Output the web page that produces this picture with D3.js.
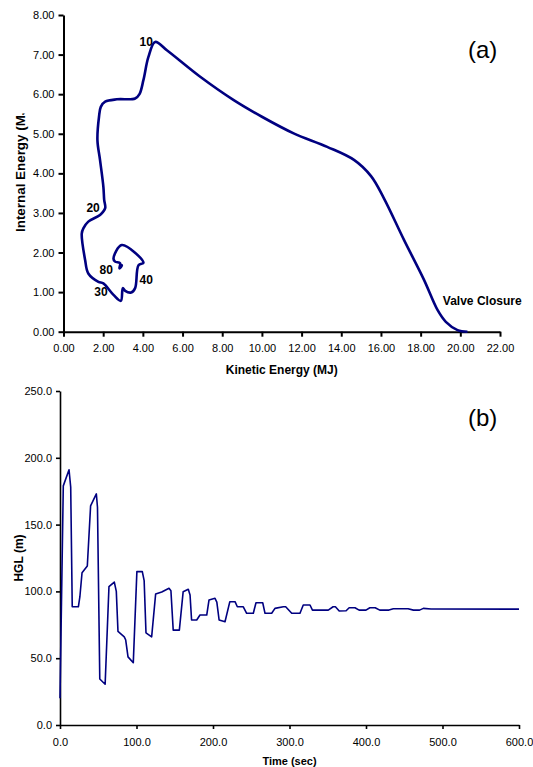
<!DOCTYPE html>
<html>
<head>
<meta charset="utf-8">
<script src="https://cdn.jsdelivr.net/npm/d3@7"></script>
<style>
  html, body { margin: 0; padding: 0; background: #fff; }
  svg { display: block; font-family: "Liberation Sans", Arial, sans-serif; }
</style>
</head>
<body>
<svg id="chart" width="533" height="767"></svg>
<script>
// (a) energy trajectory: kinetic energy (MJ) vs internal energy (MJ), from valve closure onward
const kineticMJ = [20.36, 19.86, 19.27, 18.85, 18.17, 17.16, 16.15, 15.5, 14.64, 13.29, 11.6, 10.0,
  8.58, 6.89, 5.21, 4.62, 4.28, 4.03, 3.83, 3.61, 2.69, 2.10, 1.88, 1.79, 1.71, 1.84, 2.01, 2.05, 2.10, 1.84,
  1.25, 1.0, 0.92, 1.09, 1.25, 1.76, 2.01, 2.52, 2.89, 2.99, 3.11, 3.41, 3.61, 3.78, 4.03, 2.94, 2.52, 2.60,
  2.85, 2.82, 2.94, 2.85];
const internalMJ = [0.0, 0.04, 0.25, 0.55, 1.31, 2.32, 3.37, 3.93, 4.34, 4.67, 5.01, 5.43,
  5.85, 6.44, 7.11, 7.32, 6.94, 6.36, 6.0, 5.89, 5.87, 5.81, 5.68, 5.43, 4.84, 4.34, 3.66, 3.33, 3.12, 2.95,
  2.78, 2.61, 2.48, 1.81, 1.47, 1.26, 1.22, 0.93, 0.78, 1.10, 1.03, 0.99, 1.10, 1.68, 1.74, 2.19, 1.85, 1.77,
  1.73, 1.60, 1.68, 1.70];

// time markers along the trajectory (label position in data units)
const markText = ["10", "20", "30", "40", "80", "Valve Closure"];
const markKE = [4.17, 1.49, 1.89, 4.17, 2.15, 19.12];
const markIE = [7.29, 3.10, 0.98, 1.28, 1.53, 0.75];
const markAnchor = ["middle", "middle", "middle", "middle", "middle", "start"];

const keTicks = [0, 2, 4, 6, 8, 10, 12, 14, 16, 18, 20, 22];
const ieTicks = [0, 1, 2, 3, 4, 5, 6, 7, 8];

// (b) hydraulic grade line history
const timeSec = [0, 4.3, 11.8, 14, 16, 24, 26, 28.8, 35.7, 40, 47.5, 49, 52, 59, 64, 71, 73.6, 75.8, 84, 85.9,
  88.9, 95.8, 100.5, 107.6, 110, 112.4, 119.8, 125, 133, 142.5, 145, 148, 156, 161, 167.7, 170, 172, 178.7,
  183, 191.8, 194.8, 202.6, 205, 208, 215.7, 222, 228.8, 231.8, 239.6, 244, 252.7, 256.2, 265, 268, 276.7,
  281, 291.9, 295, 302.9, 313.7, 318, 326.8, 330, 350.7, 357, 360, 365, 374, 378, 385.6, 391, 400, 405, 412,
  418, 430, 435.7, 455, 462, 470, 475, 485, 600];
const hglM = [20, 179, 191, 178, 88.5, 88.5, 96, 114, 119, 164, 173, 163, 34.4, 30.5, 103.5, 107, 100, 70, 66, 63.6,
  51, 46.6, 114.8, 114.8, 108, 69, 66, 98, 99.5, 102.3, 100.5, 71, 71, 99.8, 101.6, 97.3, 78.6, 78.6,
  82.3, 82.3, 93.6, 94.8, 92, 78.6, 77.3, 92.3, 92.3, 88.5, 88.5, 83.6, 83.6, 91.5, 91.5, 83.6, 83.6,
  87.3, 88.5, 88.5, 83.6, 83.6, 89.8, 89.8, 86, 86, 88.5, 88.5, 85.3, 85.5, 87.8, 87.8, 86, 86, 87.8, 87.8,
  86, 86, 87, 87, 86, 86, 87.3, 86.8, 86.7];

const timeTicks = [0, 100, 200, 300, 400, 500, 600];
const hglTicks = [0, 50, 100, 150, 200, 250];

const lineColor = "#000080";
const svg = d3.select("#chart");

function styleAxis(g, width) {
  g.select(".domain").attr("stroke", "#000").attr("stroke-width", width);
  g.selectAll(".tick line").attr("stroke", "#000").attr("stroke-width", width);
  g.selectAll(".tick text").attr("fill", "#000").attr("font-size", 11);
}

// ---------- panel (a) ----------
const ax = d3.scaleLinear().domain([0, 22]).range([63.5, 500]);
const ay = d3.scaleLinear().domain([0, 8]).range([331.7, 15]);

const gA = svg.append("g");
gA.append("g").attr("transform", `translate(0,${ay(0)})`)
  .call(d3.axisBottom(ax).tickValues(keTicks).tickFormat(d3.format(".2f")).tickSize(5).tickSizeOuter(0).tickPadding(8))
  .call(g => styleAxis(g, 2));
gA.append("g").attr("transform", `translate(${ax(0)},0)`)
  .call(d3.axisLeft(ay).tickValues(ieTicks).tickFormat(d3.format(".2f")).tickSize(5).tickSizeOuter(0).tickPadding(4))
  .call(g => styleAxis(g, 2));

const energyPts = kineticMJ.map((k, i) => [k, internalMJ[i]]);
gA.append("path")
  .datum(energyPts)
  .attr("fill", "none")
  .attr("stroke", lineColor)
  .attr("stroke-width", 2.6)
  .attr("stroke-linejoin", "round")
  .attr("d", d3.line().x(d => ax(d[0])).y(d => ay(d[1])).curve(d3.curveCatmullRom.alpha(0.5)));

gA.selectAll("text.mark")
  .data(markText)
  .join("text")
  .attr("class", "mark")
  .attr("x", (d, i) => ax(markKE[i]))
  .attr("y", (d, i) => ay(markIE[i]))
  .attr("text-anchor", (d, i) => markAnchor[i])
  .attr("dominant-baseline", "middle")
  .attr("font-size", 12)
  .attr("font-weight", "bold")
  .attr("fill", "#000")
  .text(d => d);

gA.append("text")
  .attr("x", ax(11)).attr("y", 374)
  .attr("text-anchor", "middle").attr("font-size", 12).attr("font-weight", "bold")
  .text("Kinetic Energy (MJ)");

// vertical title, cut at the top edge of its box
svg.append("clipPath").attr("id", "ieTitleClip")
  .append("rect").attr("x", 0).attr("y", 113.5).attr("width", 60).attr("height", 200);
gA.append("g")
  .attr("clip-path", "url(#ieTitleClip)")
  .append("text")
  .attr("transform", "translate(25,232) rotate(-90)")
  .attr("text-anchor", "start").attr("font-size", 13.4).attr("font-weight", "bold")
  .text("Internal Energy (MJ)");

gA.append("text")
  .attr("x", 468).attr("y", 58).attr("font-size", 24).text("(a)");

// ---------- panel (b) ----------
const bx = d3.scaleLinear().domain([0, 600]).range([60, 519]);
const by = d3.scaleLinear().domain([0, 250]).range([725, 391]);

const gB = svg.append("g");
gB.append("g").attr("transform", `translate(0,${by(0)})`)
  .call(d3.axisBottom(bx).tickValues(timeTicks).tickFormat(d3.format(".1f")).tickSize(4).tickSizeOuter(0).tickPadding(9))
  .call(g => styleAxis(g, 1.6));
gB.append("g").attr("transform", `translate(${bx(0)},0)`)
  .call(d3.axisLeft(by).tickValues(hglTicks).tickFormat(d3.format(".1f")).tickSize(4).tickSizeOuter(0).tickPadding(4))
  .call(g => styleAxis(g, 1.6));

const hglPts = timeSec.map((t, i) => [t, hglM[i]]);
gB.append("path")
  .datum(hglPts)
  .attr("fill", "none")
  .attr("stroke", lineColor)
  .attr("stroke-width", 1.6)
  .attr("stroke-linejoin", "round")
  .attr("d", d3.line().x(d => bx(d[0])).y(d => by(d[1])));

gB.append("text")
  .attr("x", bx(300)).attr("y", 765)
  .attr("text-anchor", "middle").attr("font-size", 11).attr("font-weight", "bold")
  .text("Time (sec)");

gB.append("text")
  .attr("transform", "translate(23,558) rotate(-90)")
  .attr("text-anchor", "middle").attr("font-size", 12).attr("font-weight", "bold")
  .text("HGL (m)");

gB.append("text")
  .attr("x", 468).attr("y", 426).attr("font-size", 24).text("(b)");
</script>
</body>
</html>
